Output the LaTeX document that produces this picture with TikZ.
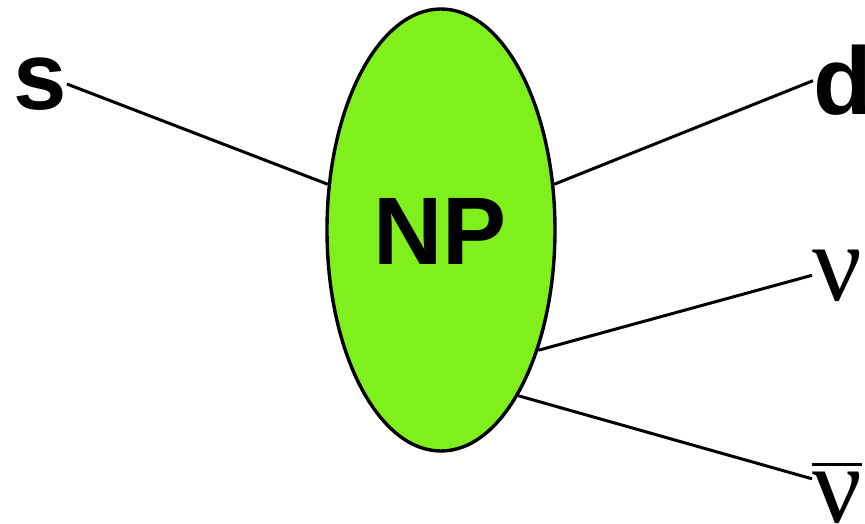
\documentclass[tikz,border=0pt]{standalone}
\usepackage{fontspec}
\setmainfont{Liberation Sans}
\newfontfamily\greekserif{Liberation Serif}
\usetikzlibrary{shapes.geometric}
\definecolor{npgreen}{RGB}{128,240,28}

\begin{document}
\begin{tikzpicture}[x=1pt,y=1pt,
  leg/.style={line width=3pt},
  flav/.style={font=\fontsize{96}{96}\selectfont\bfseries, inner sep=0pt},
  neut/.style={font=\fontsize{110}{110}\selectfont\greekserif, inner sep=0pt}]
\useasboundingbox (0,0) rectangle (865,523);

% the new-physics blob
\node[ellipse, draw, line width=3.4pt, fill=npgreen,
      minimum width=228pt, minimum height=442pt, inner sep=0pt] (np) at (441,293) {};
\node[flav] (nplabel) at (440,292) {NP};

% external legs
\node[flav] (s) at (40,439) {s};
\node[flav, anchor=base west] (d) at (813,408) {d};
\node[neut, anchor=base west] (nu) at (812,223) {ν};
\node[neut, anchor=base west] (nubar) at (812,1) {\vbox{\hrule height 3pt\kern 6pt\hbox{ν}}};

\draw[leg] (s.east) -- (np.158);
\draw[leg] (np.22.4) -- (d.west);
\draw[leg] (np.-51) -- (nu.west);
\draw[leg] (np.-65.9) -- ([yshift=14pt]nubar.west);
\end{tikzpicture}
\end{document}
